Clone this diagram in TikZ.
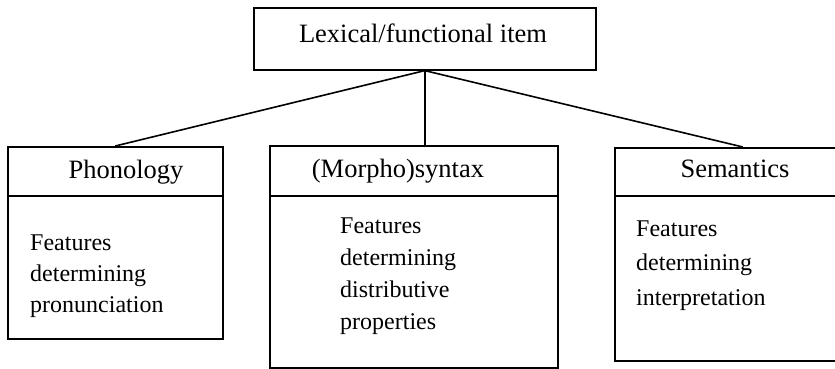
\documentclass[tikz,border=0pt]{standalone}
\usepackage{fontspec}
\setmainfont{Liberation Serif}
\usepackage{tikz}
\usetikzlibrary{positioning}

\begin{document}
\begin{tikzpicture}[x=1pt,y=-1pt,
  frame/.style={draw,line width=1.6pt,inner sep=0pt,anchor=north west},
  head/.style={font=\fontsize{26.5}{30}\selectfont,anchor=base,inner sep=0pt},
  body/.style={font=\fontsize{24}{32}\selectfont,align=left,anchor=base west,inner sep=0pt},
  link/.style={line width=1.6pt}]

  \useasboundingbox (0,0) rectangle (835,369);
  \clip (0,0) rectangle (835,369);

  % top item
  \node[frame,minimum width=342pt,minimum height=62pt] (item) at (253,7) {};
  \node[head] (itemtxt) at (423,43) {Lexical/functional item};

  % three modules: header box + content box
  \node[frame,minimum width=215pt,minimum height=49pt]  (phonhead) at (7,146)   {};
  \node[frame,minimum width=215pt,minimum height=143pt] (phonbody) at (7,195)   {};
  \node[frame,minimum width=288pt,minimum height=50pt]  (synhead)  at (269,145) {};
  \node[frame,minimum width=288pt,minimum height=172pt] (synbody)  at (269,195) {};
  \node[frame,minimum width=256pt,minimum height=48pt]  (semhead)  at (614,147) {};
  \node[frame,minimum width=256pt,minimum height=165pt] (sembody)  at (614,195) {};

  \node[head] (phontxt) at (126,178) {Phonology};
  \node[head] (syntxt)  at (398,177) {(Morpho)syntax};
  \node[head] (semtxt)  at (735,177) {Semantics};

  % base = last line
  \node[body,font=\fontsize{24}{31}\selectfont] (phonfeat) at (30,312)
    {Features\\determining\\pronunciation};
  \node[body] (synfeat) at (340,329)
    {Features\\determining\\distributive\\properties};
  \node[body,font=\fontsize{24}{34.5}\selectfont] (semfeat) at (636,305)
    {Features\\determining\\interpretation};

  \draw[link] (item.south)--(phonhead.north);
  \draw[link] (item.south)--(synhead.north -| item.south);
  \draw[link] (item.south)--(semhead.north);
\end{tikzpicture}
\end{document}
